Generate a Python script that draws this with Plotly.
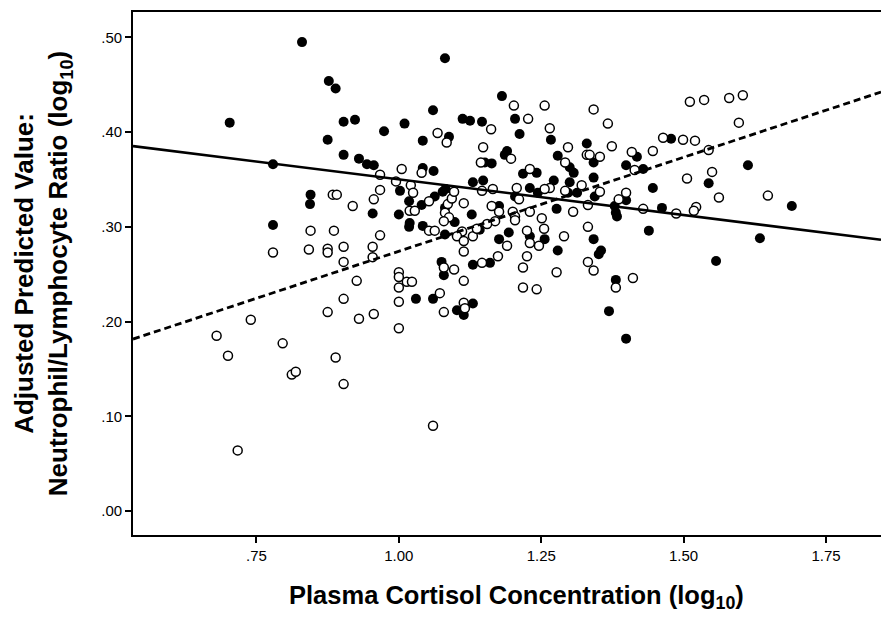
import plotly.graph_objects as go

# ---- data ----
x_tick_vals = [0.75, 1.00, 1.25, 1.50, 1.75]
x_tick_text = [".75", "1.00", "1.25", "1.50", "1.75"]
y_tick_vals = [0.0, 0.1, 0.2, 0.3, 0.4, 0.5]
y_tick_text = [".00", ".10", ".20", ".30", ".40", ".50"]

x_range = [0.5332, 1.8466]
y_range = [-0.0253, 0.5268]

filled_cortisol = [
    0.830, 1.081, 0.877, 0.889, 0.703, 0.903, 0.923, 0.974, 1.010, 1.060,
    1.042, 1.088, 1.112, 1.125, 1.146, 0.875, 0.903, 0.930, 0.944, 0.956,
    0.779, 1.042, 1.061, 0.845, 0.844, 1.002, 1.018, 1.040, 0.954, 1.000,
    1.019, 1.018, 1.042, 0.779, 1.081, 1.077, 1.082, 1.081, 1.098, 1.130,
    1.075, 1.130, 1.079, 1.030, 1.060, 1.102, 1.114, 1.130, 1.181, 1.204,
    1.212, 1.267, 1.330, 1.186, 1.190, 1.279, 1.151, 1.163, 1.218, 1.242,
    1.300, 1.307, 1.342, 1.418, 1.399, 1.429, 1.478, 1.148, 1.230, 1.244,
    1.272, 1.300, 1.313, 1.342, 1.344, 1.297, 1.204, 1.176, 1.277, 1.379,
    1.399, 1.462, 1.446, 1.544, 1.613, 1.690, 1.634, 1.557, 1.381, 1.383,
    1.439, 1.342, 1.355, 1.351, 1.279, 1.230, 1.256, 1.193, 1.176, 1.160,
    1.142, 1.381, 1.369, 1.399, 1.063, 1.128,
]
filled_nlr = [
    0.495, 0.478, 0.454, 0.446, 0.410, 0.411, 0.413, 0.401, 0.409, 0.423,
    0.391, 0.395, 0.414, 0.412, 0.411, 0.392, 0.376, 0.372, 0.366, 0.365,
    0.366, 0.362, 0.359, 0.334, 0.324, 0.338, 0.327, 0.323, 0.314, 0.313,
    0.304, 0.300, 0.301, 0.302, 0.292, 0.337, 0.340, 0.320, 0.305, 0.347,
    0.263, 0.260, 0.249, 0.224, 0.224, 0.212, 0.207, 0.219, 0.438, 0.414,
    0.398, 0.392, 0.388, 0.376, 0.380, 0.375, 0.368, 0.367, 0.356, 0.357,
    0.363, 0.357, 0.368, 0.374, 0.365, 0.361, 0.393, 0.349, 0.341, 0.336,
    0.349, 0.347, 0.336, 0.352, 0.332, 0.336, 0.332, 0.322, 0.319, 0.322,
    0.328, 0.320, 0.341, 0.346, 0.365, 0.322, 0.288, 0.264, 0.315, 0.311,
    0.296, 0.287, 0.275, 0.271, 0.275, 0.290, 0.287, 0.294, 0.287, 0.262,
    0.297, 0.244, 0.211, 0.182, 0.332, 0.313,
]

open_cortisol = [
    1.068, 1.084, 1.005, 0.967, 1.040, 0.995, 1.021, 0.967, 1.025, 0.884,
    0.891, 0.919, 0.956, 1.053, 1.086, 1.114, 1.093, 1.097, 1.019, 1.028,
    1.081, 1.088, 1.079, 1.053, 1.063, 0.845, 0.886, 0.967, 1.111, 1.102,
    1.114, 1.130, 1.137, 1.114, 0.842, 0.875, 0.875, 0.903, 0.954, 0.954,
    0.779, 0.903, 1.079, 1.097, 0.926, 1.000, 1.000, 1.000, 1.014, 1.023,
    1.000, 1.000, 0.903, 0.875, 0.930, 0.956, 0.740, 0.680, 0.700, 0.796,
    0.889, 0.812, 0.819, 0.903, 1.060, 0.717, 1.072, 1.079, 1.114, 1.114,
    1.116, 1.202, 1.256, 1.342, 1.367, 1.227, 1.162, 1.265, 1.374, 1.148,
    1.297, 1.197, 1.409, 1.446, 1.330, 1.335, 1.353, 1.292, 1.230, 1.414,
    1.464, 1.499, 1.520, 1.511, 1.536, 1.580, 1.604, 1.597, 1.544, 1.550,
    1.506, 1.562, 1.648, 1.522, 1.518, 1.487, 1.429, 1.399, 1.386, 1.353,
    1.332, 1.321, 1.306, 1.292, 1.265, 1.256, 1.207, 1.211, 1.165, 1.146,
    1.163, 1.176, 1.200, 1.204, 1.204, 1.230, 1.251, 1.169, 1.155, 1.225,
    1.255, 1.290, 1.332, 1.190, 1.230, 1.246, 1.174, 1.225, 1.218, 1.277,
    1.332, 1.342, 1.411, 1.218, 1.242, 1.381, 1.144, 1.146,
]
open_nlr = [
    0.399, 0.389, 0.361, 0.355, 0.357, 0.348, 0.344, 0.339, 0.336, 0.334,
    0.334, 0.322, 0.329, 0.327, 0.324, 0.325, 0.330, 0.337, 0.317, 0.317,
    0.315, 0.310, 0.306, 0.296, 0.296, 0.296, 0.296, 0.291, 0.295, 0.290,
    0.285, 0.290, 0.298, 0.274, 0.276, 0.277, 0.273, 0.279, 0.279, 0.268,
    0.273, 0.263, 0.257, 0.255, 0.243, 0.252, 0.247, 0.236, 0.242, 0.242,
    0.221, 0.193, 0.224, 0.210, 0.203, 0.208, 0.202, 0.185, 0.164, 0.177,
    0.162, 0.144, 0.147, 0.134, 0.090, 0.064, 0.230, 0.210, 0.243, 0.220,
    0.214, 0.428, 0.428, 0.424, 0.409, 0.414, 0.403, 0.404, 0.385, 0.384,
    0.384, 0.372, 0.379, 0.380, 0.376, 0.376, 0.374, 0.368, 0.361, 0.360,
    0.394, 0.392, 0.391, 0.432, 0.434, 0.436, 0.439, 0.410, 0.381, 0.358,
    0.351, 0.331, 0.333, 0.321, 0.317, 0.314, 0.319, 0.336, 0.329, 0.337,
    0.323, 0.344, 0.316, 0.338, 0.341, 0.340, 0.341, 0.329, 0.340, 0.338,
    0.322, 0.316, 0.316, 0.311, 0.307, 0.316, 0.309, 0.306, 0.303, 0.296,
    0.298, 0.290, 0.300, 0.280, 0.283, 0.280, 0.269, 0.269, 0.257, 0.252,
    0.263, 0.254, 0.246, 0.236, 0.234, 0.236, 0.368, 0.262,
]

# fit lines (intercept, slope)
solid_fit = [0.4254, -0.0753]
dashed_fit = [0.0757, 0.1985]

x_title = "Plasma Cortisol Concentration (log<sub>10</sub>)"
y_title = "Adjusted Predicted Value:<br>Neutrophil/Lymphocyte Ratio (log<sub>10</sub>)"

# ---- figure ----
fit_x = list(x_range)
solid_y = [solid_fit[0] + solid_fit[1] * v for v in fit_x]
dashed_y = [dashed_fit[0] + dashed_fit[1] * v for v in fit_x]

fig = go.Figure()
fig.add_trace(go.Scatter(
    x=filled_cortisol, y=filled_nlr, mode="markers",
    marker=dict(symbol="circle", size=10, color="black", line=dict(width=0)),
    showlegend=False,
))
fig.add_trace(go.Scatter(
    x=open_cortisol, y=open_nlr, mode="markers",
    marker=dict(symbol="circle", size=9, color="white",
                line=dict(color="black", width=1.5)),
    showlegend=False,
))
fig.add_trace(go.Scatter(
    x=fit_x, y=solid_y, mode="lines",
    line=dict(color="black", width=2.6), showlegend=False,
))
fig.add_trace(go.Scatter(
    x=fit_x, y=dashed_y, mode="lines",
    line=dict(color="black", width=2.8, dash="7px,4px"), showlegend=False,
))

tick_font = dict(family="Liberation Sans, Arial, sans-serif", size=15, color="black")
title_font = dict(family="Liberation Sans, Arial, sans-serif", size=26,
                  color="black", weight="bold")

fig.add_annotation(
    text=x_title, xref="paper", yref="paper", x=0.513, y=0,
    xanchor="center", yanchor="top", yshift=-44, showarrow=False,
    font=dict(title_font, size=25.5),
)

fig.update_layout(
    width=881, height=619,
    margin=dict(l=133, r=0, t=12, b=84, pad=0),
    paper_bgcolor="white", plot_bgcolor="white",
    xaxis=dict(
        range=x_range, tickvals=x_tick_vals, ticktext=x_tick_text,
        showgrid=False, zeroline=False,
        showline=True, linecolor="black", linewidth=1.8, mirror=True,
        ticks="outside", ticklen=6, tickwidth=1.5, tickcolor="black",
        tickfont=tick_font,
    ),
    yaxis=dict(
        range=y_range, tickvals=y_tick_vals, ticktext=y_tick_text,
        showgrid=False, zeroline=False,
        showline=True, linecolor="black", linewidth=1.8,
        ticks="outside", ticklen=6, tickwidth=1.5, tickcolor="black",
        tickfont=tick_font,
        title=dict(text=y_title, font=title_font, standoff=26),
    ),
)

fig.write_html(
    "out.html",
    config={"displayModeBar": False},
    post_script="document.body.style.margin='0';document.body.style.overflow='hidden';",
)
